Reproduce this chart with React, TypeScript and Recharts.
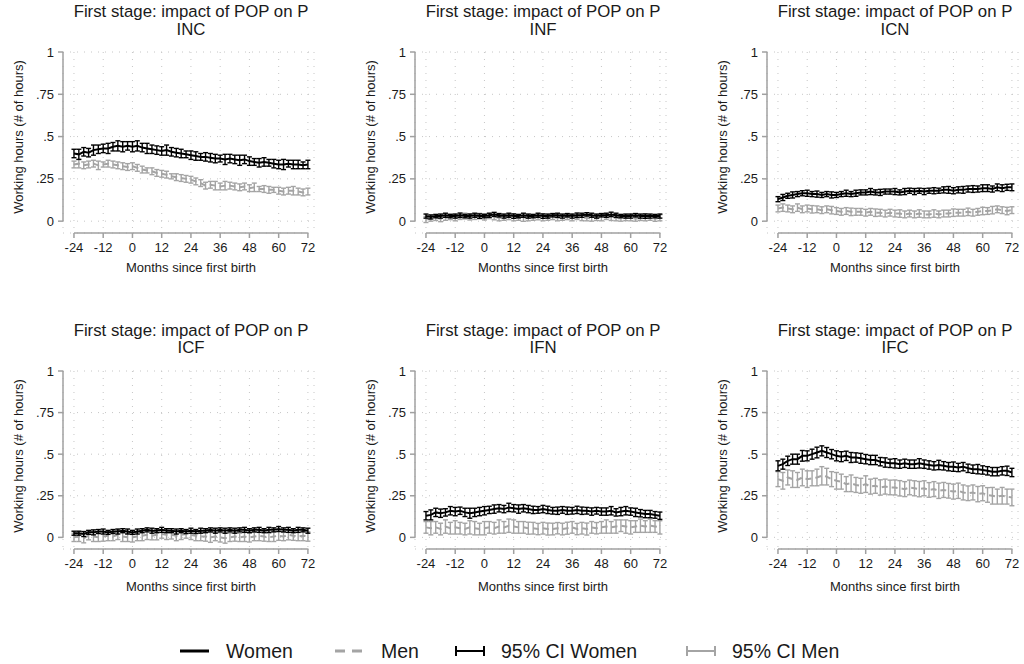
import React from 'react';
import { LineChart, Line, XAxis, YAxis, CartesianGrid, ErrorBar, ReferenceLine } from 'recharts';

const MONTHS = [
  -24, -22, -20, -18, -16, -14, -12, -10, -8, -6,
  -4, -2, 0, 2, 4, 6, 8, 10, 12, 14,
  16, 18, 20, 22, 24, 26, 28, 30, 32, 34,
  36, 38, 40, 42, 44, 46, 48, 50, 52, 54,
  56, 58, 60, 62, 64, 66, 68, 70, 72,
];

const X_TICKS = [-24, -12, 0, 12, 24, 36, 48, 60, 72];
const Y_TICKS = [0, 0.25, 0.5, 0.75, 1];
const TITLE = 'First stage: impact of POP on P';

// INC
const incWomen = [
  .400, .395, .410, .405, .420, .425, .430, .430, .440, .445,
  .440, .445, .440, .445, .435, .430, .425, .420, .415, .420,
  .410, .405, .400, .395, .390, .385, .380, .380, .375, .370,
  .370, .365, .370, .365, .360, .365, .355, .350, .345, .350,
  .345, .340, .335, .335, .340, .335, .335, .330, .335,
];
const incMen = [
  .335, .340, .330, .335, .340, .330, .335, .340, .335, .330,
  .325, .320, .325, .315, .305, .300, .295, .285, .280, .275,
  .265, .260, .255, .250, .245, .235, .225, .210, .215, .210,
  .205, .210, .210, .205, .200, .205, .195, .200, .190, .190,
  .185, .185, .180, .175, .180, .180, .175, .170, .175,
];
const incWomenCI = [
  .025, .030, .025, .025, .030, .025, .025, .030, .025, .030,
  .030, .025, .030, .030, .025, .030, .025, .025, .025, .030,
  .025, .025, .025, .020, .025, .025, .020, .025, .025, .025,
  .020, .030, .025, .025, .030, .025, .025, .020, .025, .025,
  .020, .025, .025, .030, .020, .025, .025, .020, .025,
];
const incMenCI = [
  .020, .025, .020, .020, .020, .025, .015, .020, .020, .020,
  .020, .020, .020, .020, .020, .015, .020, .020, .020, .020,
  .015, .020, .020, .020, .020, .020, .020, .020, .020, .025,
  .020, .025, .020, .020, .020, .020, .020, .025, .015, .020,
  .020, .015, .020, .020, .020, .025, .020, .020, .020,
];

// INF
const infWomen = [
  .030, .025, .030, .030, .035, .030, .030, .035, .030, .030,
  .035, .030, .030, .035, .040, .035, .030, .035, .030, .030,
  .035, .030, .030, .035, .030, .030, .035, .035, .030, .035,
  .030, .035, .035, .040, .035, .030, .035, .035, .040, .035,
  .030, .030, .030, .035, .030, .030, .030, .030, .030,
];
const infMen = [
  .010, .015, .020, .015, .020, .025, .020, .025, .030, .025,
  .025, .030, .025, .030, .025, .020, .020, .025, .020, .020,
  .015, .020, .020, .025, .020, .020, .025, .020, .020, .025,
  .020, .025, .020, .020, .015, .020, .020, .025, .020, .020,
  .015, .020, .020, .015, .020, .020, .020, .015, .020,
];
const infWomenCI = [
  .012, .012, .010, .012, .012, .010, .012, .013, .010, .012,
  .012, .013, .010, .012, .012, .010, .012, .012, .013, .010,
  .012, .012, .010, .012, .013, .012, .010, .012, .012, .010,
  .012, .013, .012, .010, .012, .012, .010, .012, .013, .012,
  .010, .012, .012, .010, .012, .013, .012, .010, .012,
];
const infMenCI = [
  .018, .015, .016, .018, .015, .016, .018, .015, .017, .018,
  .015, .016, .018, .015, .017, .018, .015, .016, .018, .015,
  .016, .018, .015, .017, .018, .015, .016, .018, .015, .016,
  .018, .015, .017, .018, .015, .016, .018, .015, .016, .018,
  .015, .017, .018, .015, .016, .018, .015, .016, .018,
];

// ICN
const icnWomen = [
  .130, .140, .150, .155, .160, .165, .165, .160, .160, .155,
  .160, .155, .155, .160, .165, .160, .165, .170, .170, .175,
  .170, .170, .175, .175, .175, .170, .175, .180, .175, .180,
  .175, .180, .180, .180, .185, .185, .180, .185, .185, .190,
  .190, .190, .195, .195, .190, .200, .195, .200, .200,
];
const icnMen = [
  .075, .080, .075, .070, .080, .070, .075, .070, .070, .065,
  .070, .065, .060, .055, .060, .055, .055, .055, .050, .055,
  .050, .050, .045, .050, .045, .045, .040, .045, .040, .045,
  .040, .040, .045, .040, .045, .045, .050, .050, .050, .055,
  .050, .055, .060, .060, .065, .070, .065, .060, .065,
];
const icnWomenCI = [
  .015, .018, .015, .018, .015, .015, .018, .015, .018, .015,
  .015, .018, .015, .015, .018, .015, .018, .015, .015, .018,
  .015, .018, .015, .015, .018, .015, .018, .015, .018, .015,
  .018, .015, .018, .015, .018, .020, .018, .018, .020, .018,
  .020, .018, .020, .020, .018, .020, .020, .018, .020,
];
const icnMenCI = [
  .020, .022, .020, .020, .022, .020, .020, .022, .020, .020,
  .020, .022, .020, .020, .020, .022, .020, .020, .020, .020,
  .022, .020, .020, .020, .020, .022, .020, .020, .020, .022,
  .020, .020, .022, .020, .020, .020, .022, .020, .020, .022,
  .020, .020, .022, .020, .022, .020, .020, .022, .020,
];

// ICF
const icfWomen = [
  .025, .025, .020, .030, .030, .035, .035, .030, .035, .035,
  .040, .035, .030, .035, .040, .045, .040, .040, .045, .040,
  .040, .035, .040, .035, .040, .035, .040, .040, .045, .040,
  .045, .040, .045, .040, .045, .045, .040, .045, .045, .040,
  .045, .045, .050, .045, .045, .040, .045, .045, .040,
];
const icfMen = [
  .000, .005, -.005, .010, .005, .000, .005, .010, .005, .015,
  .005, .000, .000, .005, .010, .015, .010, .015, .020, .015,
  .015, .010, .015, .020, .015, .010, .005, .005, .000, .005,
  .000, -.005, .000, .005, .000, .005, .000, .005, .010, .005,
  .000, .005, .010, .005, .015, .010, .005, .010, .005,
];
const icfWomenCI = [
  .012, .012, .015, .012, .015, .012, .015, .012, .012, .015,
  .012, .015, .012, .015, .012, .012, .015, .012, .015, .012,
  .012, .015, .012, .012, .015, .012, .015, .012, .012, .015,
  .012, .015, .012, .015, .012, .015, .012, .012, .015, .012,
  .015, .012, .015, .012, .015, .012, .015, .012, .015,
];
const icfMenCI = [
  .025, .030, .028, .025, .030, .025, .028, .030, .025, .028,
  .030, .025, .028, .025, .030, .028, .025, .030, .025, .028,
  .025, .030, .028, .025, .028, .030, .025, .028, .030, .025,
  .028, .030, .025, .028, .025, .030, .028, .025, .030, .028,
  .025, .030, .028, .025, .030, .028, .025, .030, .028,
];

// IFN
const ifnWomen = [
  .130, .135, .150, .145, .150, .160, .155, .160, .150, .145,
  .150, .155, .160, .165, .170, .175, .170, .180, .175, .170,
  .175, .170, .165, .165, .170, .165, .160, .160, .165, .160,
  .160, .165, .160, .160, .155, .160, .155, .155, .160, .150,
  .155, .160, .155, .150, .145, .140, .140, .135, .130,
];
const ifnMen = [
  .060, .055, .060, .050, .065, .055, .060, .055, .050, .060,
  .055, .050, .055, .060, .055, .065, .060, .070, .065, .060,
  .060, .055, .055, .050, .055, .050, .050, .055, .050, .055,
  .060, .050, .055, .050, .060, .055, .060, .065, .060, .065,
  .070, .065, .060, .065, .070, .065, .070, .065, .060,
];
const ifnWomenCI = [
  .025, .030, .025, .025, .022, .025, .025, .022, .025, .030,
  .025, .025, .025, .022, .025, .022, .022, .025, .022, .025,
  .022, .022, .022, .020, .022, .022, .020, .022, .020, .022,
  .020, .022, .022, .020, .022, .020, .022, .022, .025, .022,
  .025, .025, .022, .025, .022, .022, .022, .020, .022,
];
const ifnMenCI = [
  .035, .040, .035, .035, .040, .035, .040, .035, .035, .040,
  .040, .035, .040, .035, .035, .040, .035, .040, .040, .035,
  .035, .036, .035, .034, .035, .036, .035, .034, .035, .036,
  .035, .034, .035, .036, .035, .034, .035, .040, .035, .040,
  .035, .040, .040, .035, .040, .035, .040, .035, .040,
];

// IFC
const ifcWomen = [
  .430, .440, .460, .470, .470, .490, .490, .500, .510, .520,
  .510, .500, .490, .485, .490, .480, .480, .475, .470, .465,
  .465, .455, .450, .445, .445, .440, .445, .440, .440, .445,
  .440, .435, .430, .435, .430, .425, .425, .420, .425, .415,
  .410, .410, .405, .400, .395, .395, .400, .400, .390,
];
const ifcMen = [
  .350, .340, .360, .350, .345, .360, .350, .355, .360, .370,
  .365, .350, .340, .335, .320, .325, .315, .310, .320, .305,
  .310, .300, .305, .300, .300, .295, .290, .300, .295, .290,
  .295, .285, .290, .280, .285, .280, .275, .280, .270, .265,
  .270, .260, .265, .255, .250, .245, .250, .245, .240,
];
const ifcWomenCI = [
  .030, .030, .028, .030, .030, .032, .030, .030, .032, .030,
  .030, .028, .030, .030, .028, .030, .028, .030, .028, .028,
  .028, .025, .028, .025, .028, .025, .025, .025, .025, .028,
  .025, .025, .025, .028, .025, .025, .028, .025, .025, .025,
  .025, .028, .025, .025, .025, .025, .025, .028, .025,
];
const ifcMenCI = [
  .045, .050, .045, .050, .045, .050, .050, .045, .050, .055,
  .050, .045, .050, .045, .045, .050, .045, .045, .050, .045,
  .045, .046, .045, .044, .045, .046, .045, .044, .045, .046,
  .045, .044, .045, .046, .045, .044, .045, .046, .045, .044,
  .045, .046, .045, .044, .050, .045, .050, .045, .050,
];

const PANELS = [
  { name: 'INC', women: incWomen, men: incMen, womenCI: incWomenCI, menCI: incMenCI },
  { name: 'INF', women: infWomen, men: infMen, womenCI: infWomenCI, menCI: infMenCI },
  { name: 'ICN', women: icnWomen, men: icnMen, womenCI: icnWomenCI, menCI: icnMenCI },
  { name: 'ICF', women: icfWomen, men: icfMen, womenCI: icfWomenCI, menCI: icfMenCI },
  { name: 'IFN', women: ifnWomen, men: ifnMen, womenCI: ifnWomenCI, menCI: ifnMenCI },
  { name: 'IFC', women: ifcWomen, men: ifcMen, womenCI: ifcWomenCI, menCI: ifcMenCI },
];

// layout (px)
const COL_LEFT = [63, 415, 767];
const ROW_TOP = [52, 371];
const ROW_PLOT_H = [181, 178];
const TITLE_TOP = [3, 322];
const TITLE_LH = [18, 17];
const XLABEL_Y = [268, 587];
const PLOT_W = 251;
const Y_MIN = -0.07;
const X_MIN = -28.5;
const X_MAX = 74.5;

const AXIS = '#a0a0a0';
const GRID = '#c6c6c6';
const MEN = '#a4a4a4';
const TEXT = '#1a1a1a';

const fmtY = (v: number) => (v === 0 ? '0' : v === 1 ? '1' : String(v).replace('0.', '.'));

function Panel({ panel, col, row }: { panel: typeof PANELS[number]; col: number; row: number }) {
  const plotLeft = COL_LEFT[col];
  const plotTop = ROW_TOP[row];
  const plotH = ROW_PLOT_H[row];
  const centerX = plotLeft + 128;
  const data = MONTHS.map((m, i) => ({
    m,
    w: panel.women[i],
    mn: panel.men[i],
    wci: panel.womenCI[i],
    mci: panel.menCI[i],
  }));

  return (
    <>
      <div
        style={{
          position: 'absolute',
          left: centerX - 160,
          width: 320,
          top: TITLE_TOP[row],
          textAlign: 'center',
          fontSize: 16.8,
          lineHeight: `${TITLE_LH[row]}px`,
          color: TEXT,
        }}
      >
        <div>{TITLE}</div>
        <div>{panel.name}</div>
      </div>

      <div
        style={{
          position: 'absolute',
          left: plotLeft - 45,
          top: plotTop + 85,
          transform: 'translate(-50%, -50%) rotate(-90deg)',
          whiteSpace: 'nowrap',
          fontSize: 13,
          color: TEXT,
        }}
      >
        Working hours (# of hours)
      </div>

      <div
        style={{
          position: 'absolute',
          left: centerX - 100,
          width: 200,
          top: XLABEL_Y[row] - 8,
          lineHeight: '16px',
          textAlign: 'center',
          fontSize: 13,
          color: TEXT,
        }}
      >
        Months since first birth
      </div>

      <div style={{ position: 'absolute', left: plotLeft - 45, top: plotTop - 6 }}>
        <LineChart
          width={45 + PLOT_W + 4}
          height={6 + plotH + 30}
          data={data}
          margin={{ top: 6, right: 4, left: 0, bottom: 0 }}
        >
          <CartesianGrid stroke={GRID} strokeDasharray="1 6" />
          <XAxis
            type="number"
            dataKey="m"
            domain={[X_MIN, X_MAX]}
            ticks={X_TICKS}
            interval={0}
            allowDataOverflow
            axisLine={false}
            tickLine={{ stroke: AXIS, strokeWidth: 1.5 }}
            tickSize={5}
            tickMargin={5}
            height={30}
            tick={{ fontSize: 13, fill: TEXT }}
          />
          <YAxis
            type="number"
            domain={[Y_MIN, 1]}
            ticks={Y_TICKS}
            interval={0}
            allowDataOverflow
            axisLine={false}
            tickLine={{ stroke: AXIS, strokeWidth: 1.5 }}
            tickSize={5}
            tickMargin={4}
            width={45}
            tickFormatter={fmtY}
            tick={{ fontSize: 13, fill: TEXT }}
          />
          <ReferenceLine segment={[{ x: X_MIN, y: 0 }, { x: X_MIN, y: 1 }]} stroke={AXIS} strokeWidth={1.5} />
          <ReferenceLine segment={[{ x: -24, y: Y_MIN }, { x: 72, y: Y_MIN }]} stroke={AXIS} strokeWidth={1.5} />
          <Line
            dataKey="mn"
            stroke={MEN}
            strokeWidth={2}
            strokeDasharray="6 4"
            dot={false}
            isAnimationActive={false}
          >
            <ErrorBar dataKey="mci" direction="y" width={2.5} stroke={MEN} strokeWidth={1.4} isAnimationActive={false} />
          </Line>
          <Line dataKey="w" stroke="#000" strokeWidth={2} dot={false} isAnimationActive={false}>
            <ErrorBar dataKey="wci" direction="y" width={2.5} stroke="#000" strokeWidth={1.4} isAnimationActive={false} />
          </Line>
        </LineChart>
      </div>
    </>
  );
}

function LegendItem({ left, icon, label }: { left: number; icon: React.ReactNode; label: string }) {
  return (
    <div style={{ position: 'absolute', left, top: 639, height: 24, display: 'flex', alignItems: 'center' }}>
      <svg width={30} height={14} style={{ marginRight: 16 }}>
        {icon}
      </svg>
      <span style={{ fontSize: 19.5, color: TEXT, lineHeight: '24px' }}>{label}</span>
    </div>
  );
}

export default function App() {
  return (
    <div
      style={{
        position: 'absolute',
        left: 0,
        top: 0,
        width: 1024,
        height: 664,
        background: '#fff',
        fontFamily: '"Liberation Sans", Arial, sans-serif',
        overflow: 'hidden',
      }}
    >
      {PANELS.map((p, i) => (
        <Panel key={p.name} panel={p} col={i % 3} row={Math.floor(i / 3)} />
      ))}

      <LegendItem left={180} label="Women" icon={<line x1={0} y1={7} x2={29} y2={7} stroke="#000" strokeWidth={3} />} />
      <LegendItem
        left={335}
        label="Men"
        icon={<line x1={0} y1={7} x2={29} y2={7} stroke={MEN} strokeWidth={3} strokeDasharray="10 7" />}
      />
      <LegendItem
        left={455}
        label="95% CI Women"
        icon={
          <g stroke="#000" strokeWidth={2}>
            <line x1={1} y1={7} x2={29} y2={7} />
            <line x1={1} y1={2} x2={1} y2={12} />
            <line x1={29} y1={2} x2={29} y2={12} />
          </g>
        }
      />
      <LegendItem
        left={686}
        label="95% CI Men"
        icon={
          <g stroke={MEN} strokeWidth={2}>
            <line x1={1} y1={7} x2={29} y2={7} />
            <line x1={1} y1={2} x2={1} y2={12} />
            <line x1={29} y1={2} x2={29} y2={12} />
          </g>
        }
      />
    </div>
  );
}
